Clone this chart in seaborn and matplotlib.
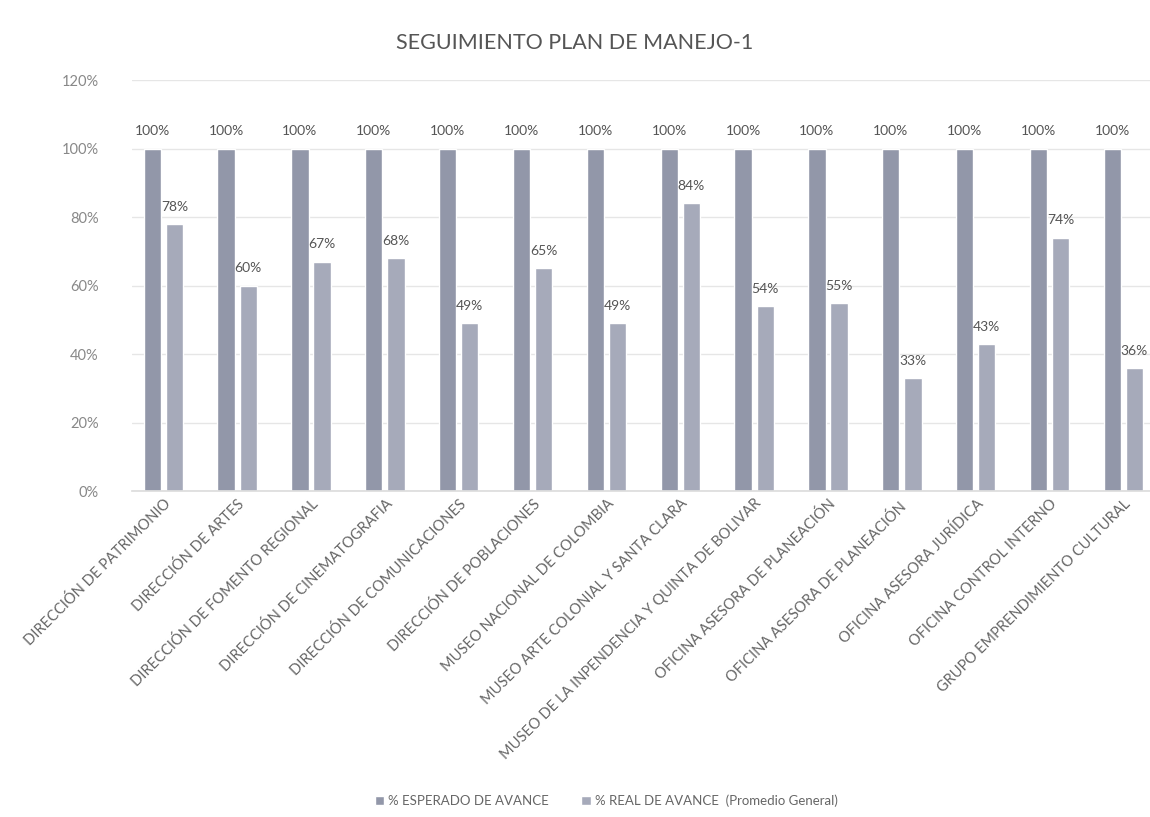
import numpy as np
import pandas as pd
import matplotlib
matplotlib.use("Agg")
import matplotlib.pyplot as plt
import seaborn as sns

# categories (x axis) and the two series, in percent
areas = ["DIRECCIÓN DE PATRIMONIO", "DIRECCIÓN DE ARTES", "DIRECCIÓN DE FOMENTO REGIONAL",
         "DIRECCIÓN DE CINEMATOGRAFIA", "DIRECCIÓN DE COMUNICACIONES", "DIRECCIÓN DE POBLACIONES",
         "MUSEO NACIONAL DE COLOMBIA", "MUSEO ARTE COLONIAL Y SANTA CLARA",
         "MUSEO DE LA INPENDENCIA Y QUINTA DE BOLIVAR", "OFICINA ASESORA DE PLANEACIÓN",
         "OFICINA ASESORA DE PLANEACIÓN ", "OFICINA ASESORA JURÍDICA",
         "OFICINA CONTROL INTERNO", "GRUPO EMPRENDIMIENTO CULTURAL"]
esperado = [100, 100, 100, 100, 100, 100, 100, 100, 100, 100, 100, 100, 100, 100]
real = [78, 60, 67, 68, 49, 65, 49, 84, 54, 55, 33, 43, 74, 36]
series_names = ["% ESPERADO DE AVANCE", "% REAL DE AVANCE  (Promedio General)"]
y_ticks = [0, 20, 40, 60, 80, 100, 120]

df = pd.DataFrame({
    "area": areas * 2,
    "valor": esperado + real,
    "serie": [series_names[0]] * len(areas) + [series_names[1]] * len(areas),
})

sns.set_theme(style="white")
plt.rcParams["font.family"] = ["Lato", "DejaVu Sans"]

fig = plt.figure(figsize=(11.5, 8.17), dpi=100)
ax = fig.add_axes([0.115, 0.399, 0.885, 0.503])

sns.barplot(data=df, x="area", y="valor", hue="serie", order=areas,
            palette=["#9297a9", "#a6aaba"], width=0.6, gap=0.22,
            ax=ax, errorbar=None, saturation=1)

# value labels over each bar
for cont in ax.containers:
    ax.bar_label(cont, labels=[f"{v:.0f}%" for v in cont.datavalues],
                 padding=8, fontsize=10, color="#555555")

ax.set_ylim(0, 120)
ax.set_yticks(y_ticks)
ax.set_yticklabels([f"{t}%" for t in y_ticks], fontsize=10.5, color="#888888")
ax.yaxis.grid(True, color="#e6e6e6", linewidth=1)
ax.set_axisbelow(True)
ax.tick_params(axis="y", length=0, pad=24)
ax.tick_params(axis="x", length=0, pad=4)
ax.set_xticks(range(len(areas)))
ax.set_xticklabels(areas, rotation=45, ha="right", rotation_mode="anchor",
                   fontsize=10.5, color="#666666")
ax.set_xlabel("")
ax.set_ylabel("")
for s in ["top", "right", "left"]:
    ax.spines[s].set_visible(False)
ax.spines["bottom"].set_color("#dddddd")
ax.set_xlim(-0.42, 13.36)

fig.suptitle("SEGUIMIENTO PLAN DE MANEJO-1", y=0.96, fontsize=15.5, color="#555555")

handles, labels = ax.get_legend_handles_labels()
ax.get_legend().remove()
fig.legend(handles, labels, loc="center", bbox_to_anchor=(0.527, 0.02), ncol=2,
           frameon=False, fontsize=9.5, handlelength=0.7, handleheight=0.7,
           handletextpad=0.3, columnspacing=2.5, labelcolor="#666666")

fig.savefig("out.png", dpi=100)
